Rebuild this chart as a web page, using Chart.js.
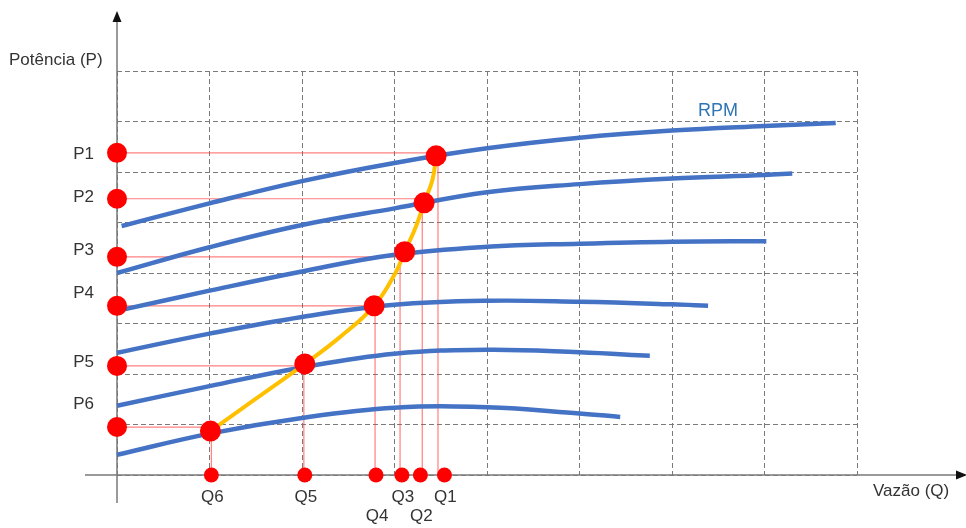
<!DOCTYPE html>
<html lang="pt-BR">
<head>
<meta charset="utf-8">
<title>Potência x Vazão</title>
<script src="https://cdn.jsdelivr.net/npm/chart.js@4/dist/chart.umd.min.js"></script>
<style>
  html, body { margin: 0; padding: 0; background: #fff; }
  #wrap { width: 966px; height: 528px; position: relative; }
</style>
</head>
<body>
<div id="wrap"><canvas id="grafico"></canvas></div>
<script>
// ===== curvas de rotação (vazão, potência) em unidades da grade =====
const curvaRpm1 = [[0.05, 4.93], [1, 5.38], [2, 5.82], [3, 6.18], [4, 6.47], [5, 6.68], [6, 6.82], [7, 6.91], [7.77, 6.97]];
const curvaRpm2 = [[0, 4.0], [1, 4.51], [2, 4.95], [3, 5.28], [4, 5.6], [5, 5.76], [6, 5.87], [7, 5.94], [7.3, 5.97]];
const curvaRpm3 = [[0.05, 3.27], [1, 3.65], [2, 4.03], [3, 4.36], [4, 4.52], [5, 4.58], [6, 4.62], [7.02, 4.63]];
const curvaRpm4 = [[0, 2.42], [1, 2.8], [2, 3.13], [3, 3.37], [4, 3.45], [5, 3.43], [6, 3.38], [6.39, 3.35]];
const curvaRpm5 = [[0, 1.37], [1, 1.76], [2, 2.13], [3, 2.4], [4, 2.48], [5, 2.43], [5.76, 2.36]];
const curvaRpm6 = [[0, 0.40], [1, 0.82], [2, 1.13], [3, 1.33], [4, 1.34], [5, 1.22], [5.44, 1.15]];
const curvasRpm = [curvaRpm1, curvaRpm2, curvaRpm3, curvaRpm4, curvaRpm5, curvaRpm6];

// curva do sistema (passa pelos pontos de operação)
const curvaSistema = [[1.01, 0.87], [1.51, 1.52], [2.03, 2.2], [2.41, 2.73], [2.78, 3.35], [3.01, 4.0],
  [3.11, 4.42], [3.23, 4.91], [3.32, 5.39], [3.41, 5.84], [3.45, 6.32]];

// pontos de operação (P1..P6 / Q1..Q6)
const pRotulos = ['P1', 'P2', 'P3', 'P4', 'P5', 'P6'];
const qRotulos = ['Q1', 'Q2', 'Q3', 'Q4', 'Q5', 'Q6'];
const pNiveis = [6.38, 5.47, 4.32, 3.35, 2.16, 0.95];
const opVazao = [3.45, 3.32, 3.11, 2.78, 2.03, 1.01];
const opPotencia = [6.32, 5.39, 4.42, 3.35, 2.20, 0.87];
const qLinhaVazao = [3.47, 3.30, 3.06, 2.79, 2.02, 1.02];
const qVazao = [3.54, 3.28, 3.08, 2.80, 2.03, 1.02];
const pRotuloY = [6.36, 5.49, 4.44, 3.60, 2.24, 1.39];

// grade
const gradeX = { min: 0, max: 8 };
const gradeY = { min: 0, max: 8 };

const AZUL = '#4472C4';
const AMARELO = '#FFC000';
const VERMELHO = '#FF0000';
const LINHA_VERM = 'rgba(255, 60, 60, 0.65)';
const FONTE = '"Liberation Sans", Arial, sans-serif';

const pts = arr => arr.map(([x, y]) => ({ x, y }));

// ===== datasets =====
const datasets = [];

// bolinhas vermelhas (por cima de tudo)
datasets.push({
  data: opVazao.map((x, i) => ({ x, y: opPotencia[i] })),
  pointRadius: 10.5, pointBackgroundColor: VERMELHO, pointBorderWidth: 0,
  showLine: false, clip: false, order: 0
});
datasets.push({
  data: pNiveis.map(y => ({ x: 0, y })),
  pointRadius: 10, pointBackgroundColor: VERMELHO, pointBorderWidth: 0,
  showLine: false, clip: false, order: 0
});
datasets.push({
  data: qVazao.map(x => ({ x, y: 0 })),
  pointRadius: 7.5, pointBackgroundColor: VERMELHO, pointBorderWidth: 0,
  showLine: false, clip: false, order: 0
});

// curva do sistema (amarela)
datasets.push({
  data: pts(curvaSistema),
  showLine: true, borderColor: AMARELO, borderWidth: 4,
  tension: 0.4, pointRadius: 0, order: 1
});

// curvas de rotação
curvasRpm.forEach(c => {
  datasets.push({
    data: pts(c), showLine: true, borderColor: AZUL, borderWidth: 4.5,
    tension: 0.4, pointRadius: 0, borderCapStyle: 'butt', clip: false, order: 2
  });
});

// linhas de chamada horizontais e verticais
pNiveis.forEach((y, i) => {
  datasets.push({
    data: [{ x: 0, y }, { x: opVazao[i], y }],
    showLine: true, borderColor: LINHA_VERM, borderWidth: 1.2, pointRadius: 0, order: 3
  });
  datasets.push({
    data: [{ x: qLinhaVazao[i], y: opPotencia[i] }, { x: qLinhaVazao[i], y: 0 }],
    showLine: true, borderColor: LINHA_VERM, borderWidth: 1.2, pointRadius: 0, order: 3
  });
});

// ===== eixos com setas e textos =====
const eixosPlugin = {
  id: 'eixos',
  beforeDatasetsDraw(chart) {
    const { ctx, scales: { x, y } } = chart;
    const x0 = x.getPixelForValue(0);
    const y0 = y.getPixelForValue(0);
    ctx.save();
    ctx.strokeStyle = '#7a7a7a';
    ctx.lineWidth = 1.5;
    ctx.beginPath();
    ctx.moveTo(x0, y0 + 28);
    ctx.lineTo(x0, 20);
    ctx.moveTo(x0 - 32, y0);
    ctx.lineTo(958, y0);
    ctx.stroke();
    // setas
    ctx.fillStyle = '#111';
    ctx.beginPath();
    ctx.moveTo(x0, 11);
    ctx.lineTo(x0 - 4.5, 22);
    ctx.lineTo(x0 + 4.5, 22);
    ctx.closePath();
    ctx.fill();
    ctx.beginPath();
    ctx.moveTo(967, y0);
    ctx.lineTo(956, y0 - 4.5);
    ctx.lineTo(956, y0 + 4.5);
    ctx.closePath();
    ctx.fill();
    ctx.restore();
  },
  afterDatasetsDraw(chart) {
    const { ctx, scales: { x, y } } = chart;
    const x0 = x.getPixelForValue(0);
    const y0 = y.getPixelForValue(0);
    ctx.save();
    ctx.font = '17px ' + FONTE;
    ctx.fillStyle = '#333';
    ctx.textBaseline = 'middle';

    ctx.textAlign = 'right';
    pRotulos.forEach((t, i) => ctx.fillText(t, x0 - 23, y.getPixelForValue(pRotuloY[i])));

    ctx.textAlign = 'center';
    qRotulos.forEach((t, i) => {
      // Q2 e Q4 ficam numa segunda linha
      const linha = (i === 1 || i === 3) ? 41 : 22;
      ctx.fillText(t, x.getPixelForValue(qVazao[i]) + 1, y0 + linha);
    });

    ctx.textAlign = 'left';
    ctx.fillText('Potência (P)', 9, 60);
    ctx.fillText('Vazão (Q)', 873, 491);

    ctx.font = '18px ' + FONTE;
    ctx.fillStyle = '#2E75B6';
    ctx.fillText('RPM', 698, 111);
    ctx.restore();
  }
};

const eixo = (lim, lado) => ({
  type: 'linear', min: lim.min, max: lim.max, position: lado,
  ticks: { stepSize: 1, display: false },
  grid: { color: '#7a7a7a', lineWidth: 1, drawTicks: false },
  border: { display: false, dash: [5, 3] },
  afterFit: s => { if (lado === 'left') s.width = 0; else s.height = 0; }
});

new Chart(document.getElementById('grafico'), {
  type: 'scatter',
  data: { datasets },
  options: {
    responsive: true,
    maintainAspectRatio: false,
    animation: false,
    layout: { padding: { left: 117, right: 109, top: 71, bottom: 53 } },
    plugins: { legend: { display: false }, tooltip: { enabled: false } },
    scales: { x: eixo(gradeX, 'bottom'), y: eixo(gradeY, 'left') }
  },
  plugins: [eixosPlugin]
});
</script>
</body>
</html>
